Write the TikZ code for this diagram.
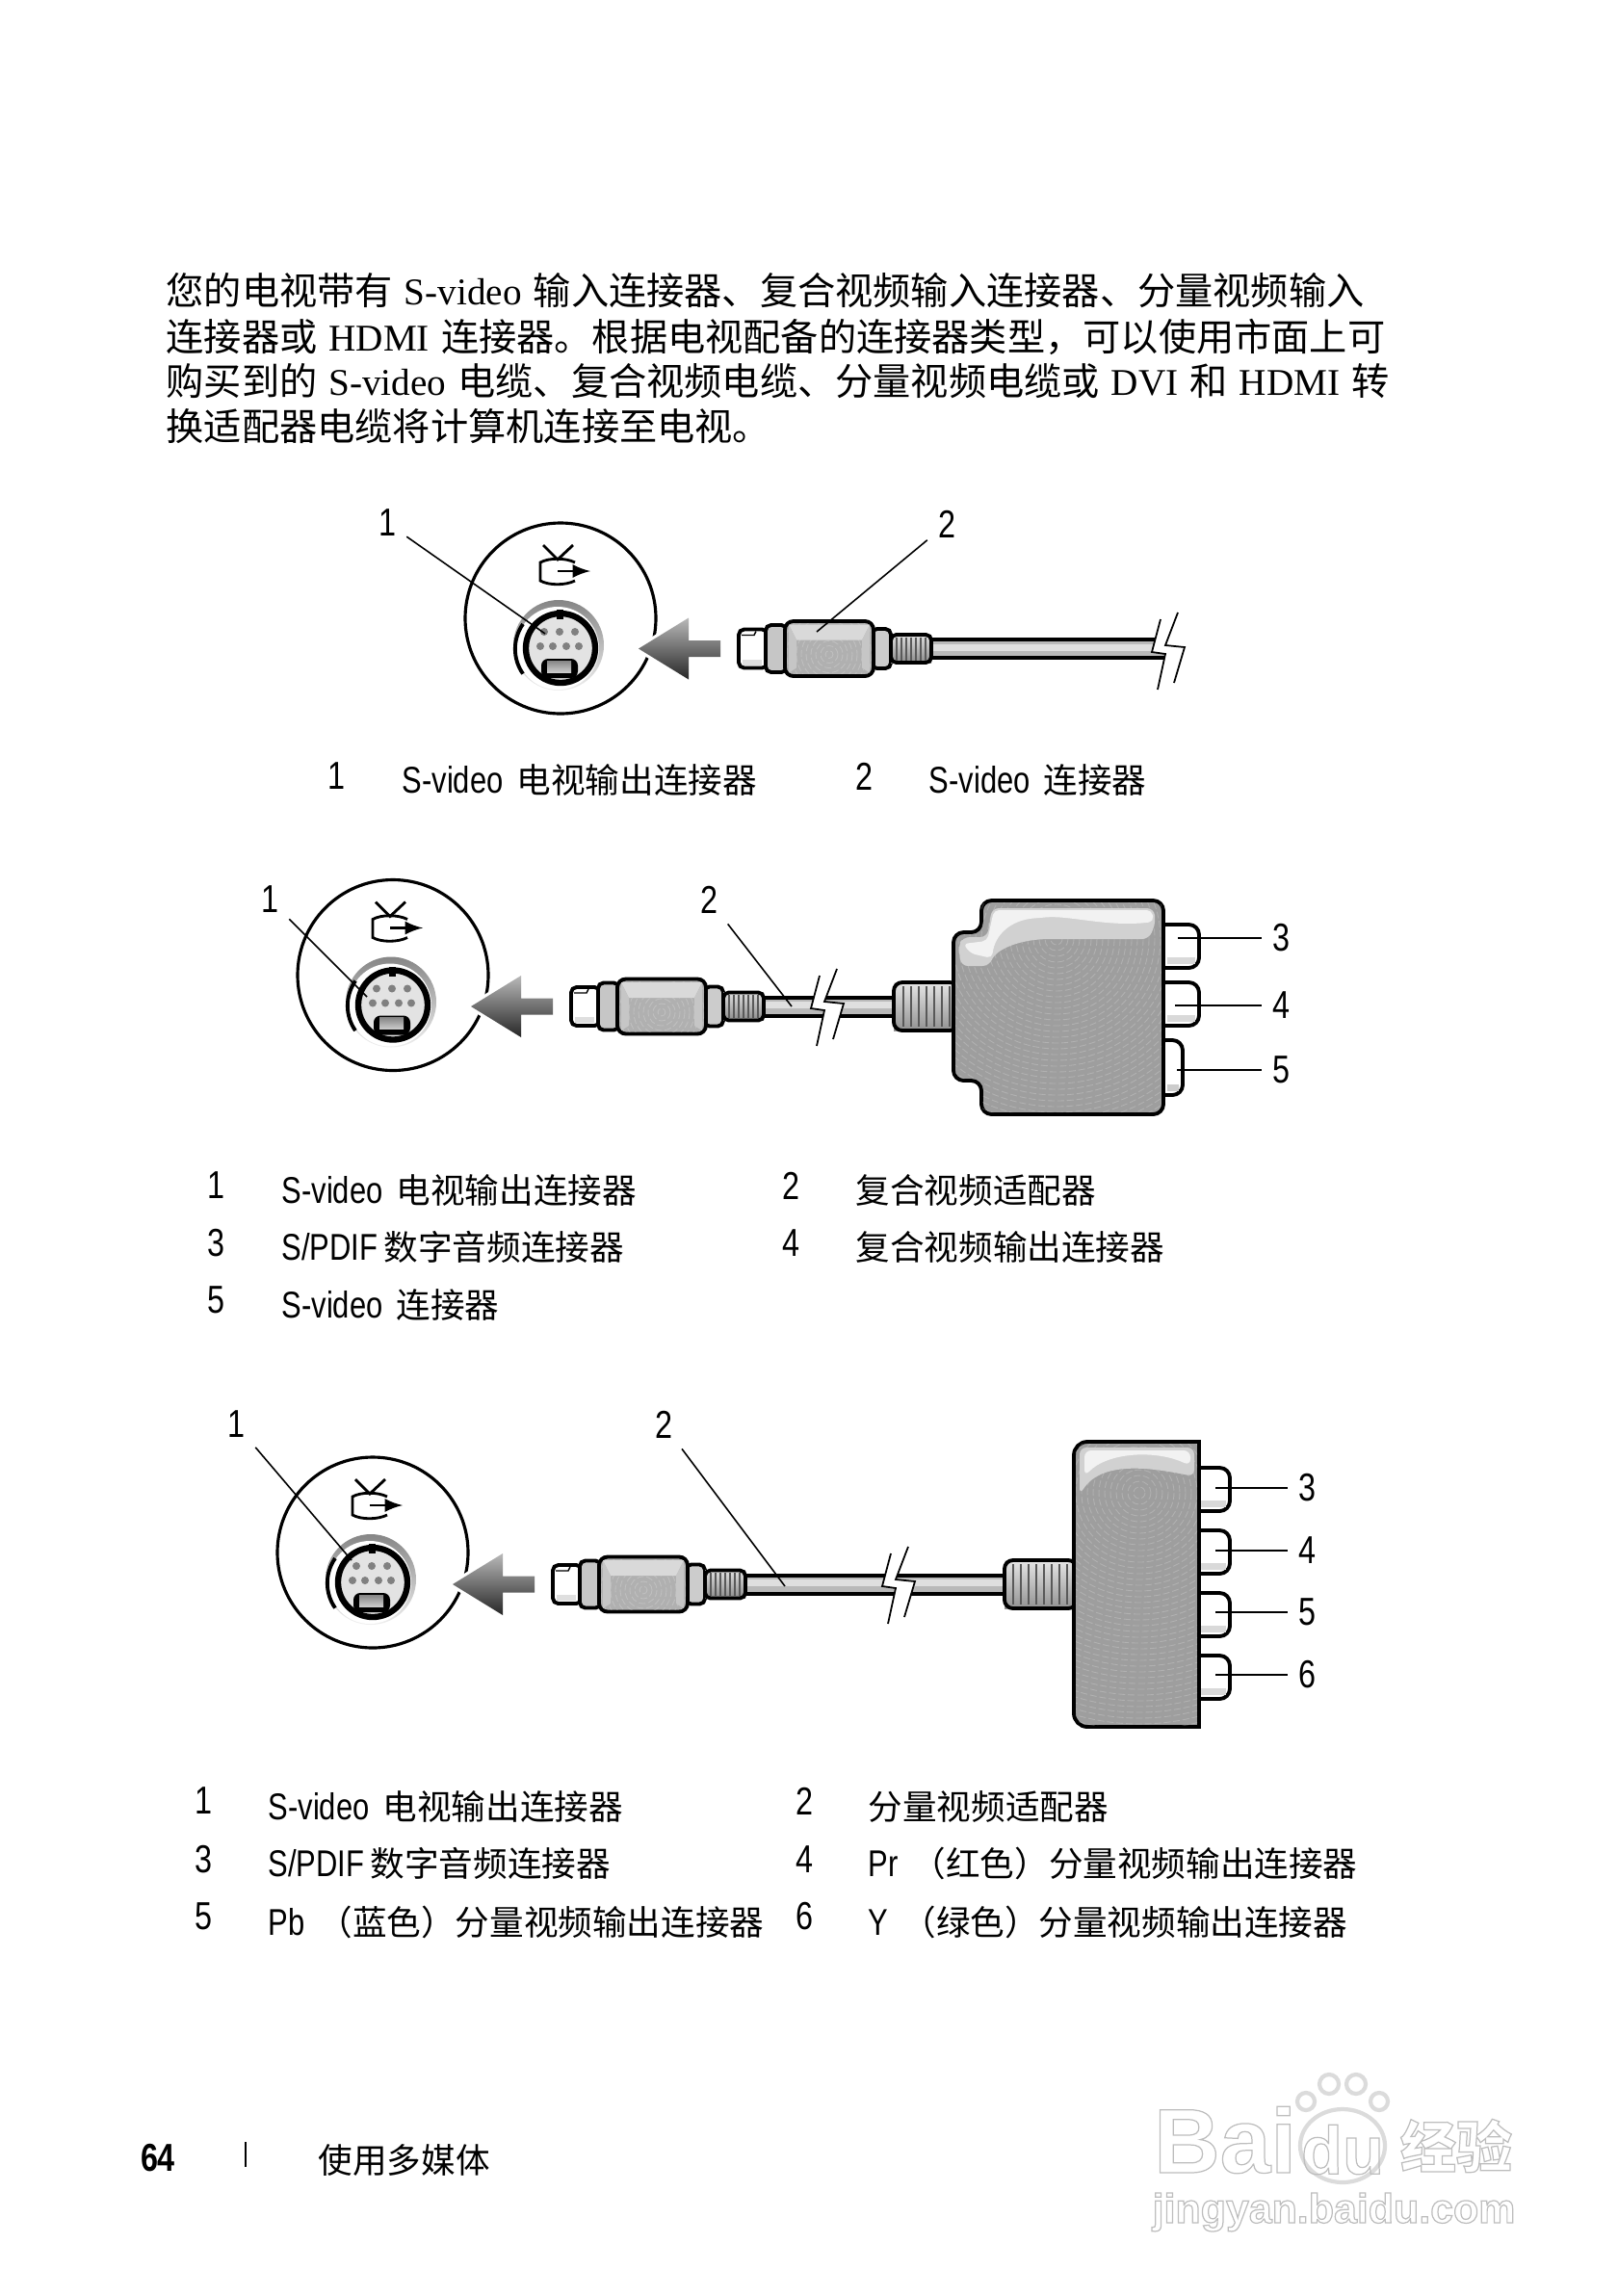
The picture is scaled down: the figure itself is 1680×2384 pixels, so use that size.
\documentclass[tikz,border=0pt]{standalone}
\usepackage{fontspec}
\setmainfont{Liberation Serif}
\newfontfamily\cjk{Noto Sans CJK SC}
\newfontfamily\cjkc[Scale=0.92]{Noto Sans CJK SC}
\newfontfamily\cond[FakeStretch=0.8]{Liberation Sans}
\newfontfamily\wmark{Liberation Sans}
\newcommand{\cn}[1]{{\cjk #1}}
\newcommand{\cnc}[1]{{\cjkc #1}}
\newcommand{\hollow}[1]{\special{pdf:code q 1 Tr 0.35 w 0.74 G}#1\special{pdf:code 0 Tr Q}}
\definecolor{boxgray}{gray}{0.62}
\definecolor{litegray}{gray}{0.82}
\definecolor{pingray}{gray}{0.5}
\definecolor{markgray}{gray}{0.86}
\tikzset{
  body/.style={anchor=west, inner sep=0pt, font=\fontsize{11.15}{14}\selectfont, execute at begin node={\spaceskip=3.4pt}},
  capt/.style={anchor=west, inner sep=0pt, font=\cond\fontsize{11}{13}\selectfont, execute at begin node={\spaceskip=4pt}},
  num/.style={inner sep=3pt, font=\cond\fontsize{11.5}{13}\selectfont},
  lead/.style={draw=black, line width=0.45pt},
  leadb/.style={draw=black, line width=0.7pt},
  partline/.style={draw=black, line width=1.1pt, rounded corners=1.6pt},
  jack/.style={partline, fill=white, rounded corners=3pt},
  moire/.style={white, opacity=0.2, line width=0.25pt, dash pattern=on 2pt off 0.8pt},
  port/.pic={
    \draw[line width=0.9pt, fill=white] (0,0) circle[radius=99];
    % tv symbol
    \draw[line width=0.8pt] (15,-58) .. controls (5,-63) and (-12,-63) .. (-21,-58) -- (-21,-39)
      .. controls (-12,-34) and (5,-34) .. (15,-39);
    \draw[line width=0.8pt] (-18,-76) -- (-3,-61) -- (13,-76);
    \draw[line width=0.8pt, -latex] (-3,-49) -- (31,-49);
    % socket
    \shade[top color=gray!95, middle color=gray!18, bottom color=gray!12] (-2,28) circle[radius=47];
    \fill[white] (-3,31) circle[radius=43];
    \draw[line width=1.1pt] (-39,6) arc[start angle=-145, end angle=-215, radius=45];
    \draw[line width=1.8pt, fill=gray!22] (0,31) circle[radius=36];
    \fill[black] (-4,-9) rectangle (3,1);
    \foreach \px/\py in {-17/14,-1/14,15/14,-21/29,-8/29,6/29,19/29}
      \fill[pingray] (\px,\py) circle[radius=4];
    \fill[black, rounded corners=2pt] (-20,42) rectangle (18,62);
    \shade[top color=gray!95, middle color=white, bottom color=gray!40] (-14,44) rectangle (11,56);
  },
  plug/.pic={
    % arrow
    \draw[white, line width=1.8pt] (-104,0) -- (-52,-32) -- (-52,-8.5) -- (-19,-8.5) -- (-19,8.5) -- (-52,8.5) -- (-52,32) -- cycle;
    \shade[top color=gray!55, bottom color=black!85] (-104,0) -- (-52,-32) -- (-52,-8.5) -- (-19,-8.5) -- (-19,8.5) -- (-52,8.5) -- (-52,32) -- cycle;
    % tip and collars
    \draw[partline, fill=white] (0,-20) rectangle (30,20);
    \fill[gray!25] (4,11) rectangle (24,17);
    \draw[line width=0.4pt] (3,-14) -- (16,-14) -- (18,-18);
    \draw[partline, fill=gray!45] (28,-24.5) rectangle (50,24.5);
    \draw[partline, fill=gray!40] (138,-20.5) rectangle (158,20.5);
    % ribbed strain relief
    \shade[top color=gray!25, bottom color=gray!90] (158,-14.5) rectangle (200,14.5);
    \draw[partline] (158,-14.5) rectangle (200,14.5);
    \foreach \rx in {164,169,...,194}
      \draw[gray!70!black, line width=0.6pt] (\rx,-12) -- (\rx,12);
    % body
    \draw[partline, fill=gray!62, rounded corners=2.5pt] (48,-28.5) rectangle (140,28.5);
    \begin{scope}
      \clip (50,-26) rectangle (138,26);
      \foreach \mr in {4,9,...,49}
        \draw[moire] (94,6) circle[radius=\mr];
    \end{scope}
    \fill[gray!30] (52,-25) -- (136,-25) -- (128,-9) -- (60,-9) -- cycle;
    \fill[gray!45] (52,-25) -- (60,-9) -- (60,20) -- (52,25) -- cycle;
    \fill[gray!45] (136,-25) -- (128,-9) -- (128,20) -- (136,25) -- cycle;
  },
  breakmark/.pic={
    \fill[white] (-7,-32) -- (-16,2) -- (-2,4) -- (-10,41) -- (7,34) -- (18,-3) -- (-2,-5) -- (11,-39) -- cycle;
    \draw[line width=0.5pt] (-7,-32) -- (-16,2) -- (-2,4) -- (-10,41);
    \draw[line width=0.5pt] (11,-39) -- (-2,-5) -- (18,-3) -- (7,34);
  }
}
\newcommand{\cablerun}[3]{
  \fill[black] (#1,#3-11.5) rectangle (#2,#3+11.5);
  \fill[gray!55] (#1,#3-7.5) rectangle (#2,#3+7.5);
  \fill[gray!25] (#1,#3-5) rectangle (#2,#3+2);
}
\begin{document}
\begin{tikzpicture}[x=0.01cm, y=-0.01cm]
\useasboundingbox (0,0) rectangle (1680,2384);
% ---------------- paragraph ------------------------------------------------
\node[body] (p1) at (172,302) {\cn{您的电视带有} S-video \cn{输入连接器、复合视频输入连接器、分量视频输入}};
\node[body] (p2) at (172,350) {\cn{连接器或} HDMI \cn{连接器。根据电视配备的连接器类型\char"FF0C 可以使用市面上可}};
\node[body] (p3) at (172,396) {\cn{购买到的} S-video \cn{电缆、复合视频电缆、分量视频电缆或} DVI \cn{和} HDMI \cn{转}};
\node[body] (p4) at (172,443) {\cn{换适配器电缆将计算机连接至电视。}};
% ---------------- first figure ---------------------------------------------
\cablerun{960}{1212}{673.5}
\pic at (582,642) {port};
\pic at (767,673.5) {plug};
\pic at (1212,675) {breakmark};
\node[num] (a1) at (402,543) {1};
\node[num] (a2) at (983,544) {2};
\coordinate (a1end) at (566,658);
\coordinate (a2end) at (848,656);
\draw[lead] (a1) -- (a1end);
\draw[lead] (a2) -- (a2end);
\node[num] (ca1) at (349,806) {1};
\node[capt] (ta1) at (417,810) {S-video \cnc{电视输出连接器}};
\node[num] (ca2) at (897,806) {2};
\node[capt] (ta2) at (964,810) {S-video \cnc{连接器}};
% ---------------- second figure --------------------------------------------
\cablerun{790}{940}{1045}
\pic at (408,1012.5) {port};
\pic at (593,1045) {plug};
\pic at (858,1045) {breakmark};
\foreach \jy in {960,1020}{
  \draw[jack] (1200,\jy) rectangle (1245,\jy+45);
  \fill[gray!30] (1212,\jy+34) rectangle (1241,\jy+41);
}
\draw[jack] (1200,1080) rectangle (1228,1137);
\fill[gray!40] (1212,1126) rectangle (1224,1133);
\shade[top color=gray!20, bottom color=gray!85] (928,1020) rectangle (995,1070);
\draw[partline, rounded corners=2.5pt] (928,1020) rectangle (995,1070);
\foreach \rx in {938,946,...,986}
  \draw[gray!70!black, line width=0.5pt] (\rx,1024) -- (\rx,1066);
\draw[partline, fill=boxgray, rounded corners=3pt]
  (1208,935) -- (1019,935) -- (1019,968) -- (990,968) -- (990,1122) -- (1019,1122) -- (1019,1157) -- (1208,1157) -- cycle;
\begin{scope}
  \clip (1019,937) rectangle (1206,1155) (992,970) rectangle (1019,1120);
  \foreach \mr in {6,12,...,240}
    \draw[moire] (1097,975) circle[radius=\mr];
\end{scope}
\fill[litegray, rounded corners=2pt] (1030,943) -- (1198,943) -- (1200,958) -- (1193,975) -- (1097,975) .. controls (1060,975) and (1035,985) .. (1027,1003) -- (998,1003) -- (995,982) -- (1000,973) -- (1025,973) -- cycle;
\fill[gray!10, rounded corners=1.5pt] (1032,945) -- (1196,945) -- (1198,957) .. controls (1150,963) and (1110,950) .. (1080,953) .. controls (1050,955) and (1033,970) .. (1030,995) -- (1008,990) -- (1000,980) -- (1025,977) -- cycle;
\node[num] (b1) at (280,934) {1};
\node[num] (b2) at (736,934) {2};
\node[num] (b3) at (1330,974) {3};
\node[num] (b4) at (1330,1044) {4};
\node[num] (b5) at (1330,1111) {5};
\coordinate (b1end) at (381,1035);
\coordinate (b2end) at (822,1045);
\coordinate (b3end) at (1223,974);
\coordinate (b4end) at (1220,1044);
\coordinate (b5end) at (1222,1111);
\draw[lead] (b1) -- (b1end);
\draw[lead] (b2) -- (b2end);
\foreach \k in {3,4,5}
  \draw[leadb] (b\k) -- (b\k end);
\node[num] (cb1) at (224,1231) {1};
\node[capt] (tb1) at (292,1236) {S-video \cnc{电视输出连接器}};
\node[num] (cb2) at (821,1231) {2};
\node[capt] (tb2) at (888,1236) {\cnc{复合视频适配器}};
\node[num] (cb3) at (224,1291) {3};
\node[capt] (tb3) at (292,1295) {S/PDIF\hspace{-2.2pt} \cnc{数字音频连接器}};
\node[num] (cb4) at (821,1291) {4};
\node[capt] (tb4) at (888,1295) {\cnc{复合视频输出连接器}};
\node[num] (cb5) at (224,1350) {5};
\node[capt] (tb5) at (292,1355) {S-video \cnc{连接器}};
% ---------------- third figure ---------------------------------------------
\cablerun{770}{1050}{1645}
\pic at (387,1612) {port};
\pic at (574,1645) {plug};
\pic at (932,1645) {breakmark};
\foreach \jy in {1524,1589,1654,1719}{
  \draw[jack] (1235,\jy) rectangle (1277,\jy+45);
  \fill[gray!30] (1247,\jy+34) rectangle (1273,\jy+41);
}
\shade[top color=gray!20, bottom color=gray!85] (1043,1620) rectangle (1118,1670);
\draw[partline, rounded corners=2.5pt] (1043,1620) rectangle (1118,1670);
\foreach \rx in {1052,1060,...,1110}
  \draw[gray!70!black, line width=0.5pt] (\rx,1624) -- (\rx,1666);
\draw[line width=1.1pt, fill=boxgray] (1245,1497) [rounded corners=4pt] -- (1115,1497) -- (1115,1793) [sharp corners] -- (1245,1793) -- cycle;
\begin{scope}
  \clip (1117,1499) rectangle (1243,1791);
  \foreach \mr in {6,12,...,250}
    \draw[moire] (1183,1550) circle[radius=\mr];
\end{scope}
\fill[litegray, rounded corners=2pt] (1121,1503) -- (1240,1503) -- (1240,1533) .. controls (1200,1525) and (1145,1515) .. (1121,1552) -- cycle;
\fill[gray!10, rounded corners=2pt] (1126,1506) -- (1236,1506) -- (1236,1522) .. controls (1200,1505) and (1150,1508) .. (1126,1533) -- cycle;
\node[num] (d1) at (245,1479) {1};
\node[num] (d2) at (689,1479) {2};
\node[num] (d3) at (1357,1545) {3};
\node[num] (d4) at (1357,1610) {4};
\node[num] (d5) at (1357,1674) {5};
\node[num] (d6) at (1357,1739) {6};
\coordinate (d1end) at (365,1620);
\coordinate (d2end) at (815,1647);
\foreach \k/\ky in {3/1545,4/1610,5/1674,6/1739}
  \coordinate (d\k end) at (1262,\ky);
\draw[lead] (d1) -- (d1end);
\draw[lead] (d2) -- (d2end);
\foreach \k in {3,4,5,6}
  \draw[leadb] (d\k) -- (d\k end);
\node[num] (cd1) at (211,1870) {1};
\node[capt] (td1) at (278,1876) {S-video \cnc{电视输出连接器}};
\node[num] (cd2) at (835,1870) {2};
\node[capt] (td2) at (901,1876) {\cnc{分量视频适配器}};
\node[num] (cd3) at (211,1931) {3};
\node[capt] (td3) at (278,1935) {S/PDIF\hspace{-2.2pt} \cnc{数字音频连接器}};
\node[num] (cd4) at (835,1931) {4};
\node[capt] (td4) at (901,1935) {Pr \cnc{\char"FF08 红色\char"FF09 分量视频输出连接器}};
\node[num] (cd5) at (211,1990) {5};
\node[capt] (td5) at (278,1996) {Pb \cnc{\char"FF08 蓝色\char"FF09 分量视频输出连接器}};
\node[num] (cd6) at (835,1990) {6};
\node[capt] (td6) at (901,1996) {Y \cnc{\char"FF08 绿色\char"FF09 分量视频输出连接器}};
% ---------------- footer and watermark -------------------------------------
\node[num, font=\cond\bfseries\fontsize{11.5}{13}\selectfont] (pg) at (164,2241) {64};
\draw[line width=0.4pt] (255,2224) -- (255,2250);
\node[capt] (ft) at (330,2243) {\cnc{使用多媒体}};
\draw[markgray, line width=1.2pt] (1394,2228) ellipse[x radius=44, y radius=38];
\foreach \tx/\ty/\tr in {1356/2182/9,1380/2164/10,1408/2164/10,1432/2182/9}
  \draw[markgray, line width=1.2pt] (\tx,\ty) circle[radius=\tr];
\node[inner sep=0pt, text=markgray, font=\wmark\bfseries\fontsize{27}{28}\selectfont] (wb) at (1272,2222) {\hollow{Bai}};
\node[inner sep=0pt, text=markgray, font=\wmark\bfseries\fontsize{20}{22}\selectfont] (wd) at (1394,2232) {\hollow{du}};
\node[inner sep=0pt, text=markgray, font=\cjk\bfseries\fontsize{16.5}{18}\selectfont] (wj) at (1512,2228) {\hollow{经验}};
\node[inner sep=0pt, text=markgray, font=\wmark\bfseries\fontsize{12.2}{14}\selectfont] (wu) at (1385,2297) {\hollow{jingyan.baidu.com}};
\end{tikzpicture}
\end{document}
